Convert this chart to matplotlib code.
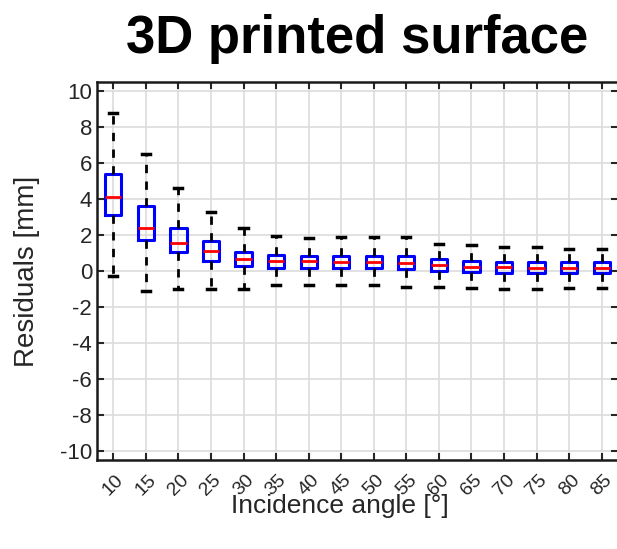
import matplotlib
matplotlib.use('Agg')
import matplotlib.pyplot as plt

plt.rcParams['font.family'] = ['Liberation Sans', 'DejaVu Sans']
plt.rcParams['axes.unicode_minus'] = False

# residual statistics per incidence angle
angles = [10, 15, 20, 25, 30, 35, 40, 45, 50, 55, 60, 65, 70, 75, 80, 85]
whislo = [-0.3, -1.1, -1.0, -1.0, -1.0, -0.77, -0.77, -0.77, -0.77, -0.9, -0.9, -0.94, -1.0, -1.0, -0.95, -0.95]
q1 = [3.1, 1.7, 1.05, 0.55, 0.28, 0.17, 0.17, 0.17, 0.17, 0.1, 0.0, -0.05, -0.1, -0.1, -0.1, -0.1]
med = [4.1, 2.4, 1.55, 1.1, 0.66, 0.55, 0.55, 0.5, 0.5, 0.45, 0.33, 0.22, 0.22, 0.17, 0.17, 0.17]
q3 = [5.4, 3.6, 2.4, 1.65, 1.05, 0.88, 0.83, 0.83, 0.85, 0.85, 0.65, 0.55, 0.5, 0.5, 0.5, 0.5]
whishi = [8.8, 6.5, 4.6, 3.3, 2.4, 1.93, 1.82, 1.88, 1.88, 1.88, 1.5, 1.44, 1.33, 1.33, 1.2, 1.2]
yticks = list(range(-10, 11, 2))

stats = []
for i in range(len(angles)):
    stats.append(dict(label=str(angles[i]), whislo=whislo[i], q1=q1[i], med=med[i],
                      q3=q3[i], whishi=whishi[i], fliers=[]))

fig = plt.figure(figsize=(6.17, 5.49), dpi=100)
ax = fig.add_axes([97 / 617, 89 / 549, 521 / 617, 378 / 549])

pos = list(range(1, len(angles) + 1))
ax.bxp(stats, positions=pos, widths=0.5, capwidths=0.25, showfliers=False,
       boxprops=dict(color='#0000ff', lw=2.2),
       medianprops=dict(color='#ff0000', lw=2),
       whiskerprops=dict(color='black', lw=2, ls=(0, (3, 3))),
       capprops=dict(color='black', lw=2.5))

ax.set_xlim(0.5, len(angles) + 0.5)
ax.set_ylim(-10.5, 10.5)
ax.set_yticks(yticks)
ax.set_xticks(pos)
ax.set_xticklabels([str(a) for a in angles], rotation=45, ha='center')

ax.grid(True, color='#dcdcdc', lw=1.2)
ax.set_axisbelow(True)
ax.tick_params(direction='in', length=5, width=1.5, top=True, right=True,
               labelsize=16, labelcolor='#262626', color='#262626')
ax.tick_params(axis='x', labelsize=14, pad=8)
for s in ax.spines.values():
    s.set_linewidth(1.8)
    s.set_color('#1a1a1a')

ax.set_ylabel('Residuals [mm]', fontsize=20, color='#262626')
ax.yaxis.set_label_coords(-0.11, 0.5)
ax.set_xlabel('Incidence angle [°]', fontsize=19, color='#262626')
ax.xaxis.set_label_coords(0.466, -0.09)

ax.set_title('3D printed surface', fontsize=38, fontweight='bold', pad=21)

fig.savefig('out.png', dpi=100)
